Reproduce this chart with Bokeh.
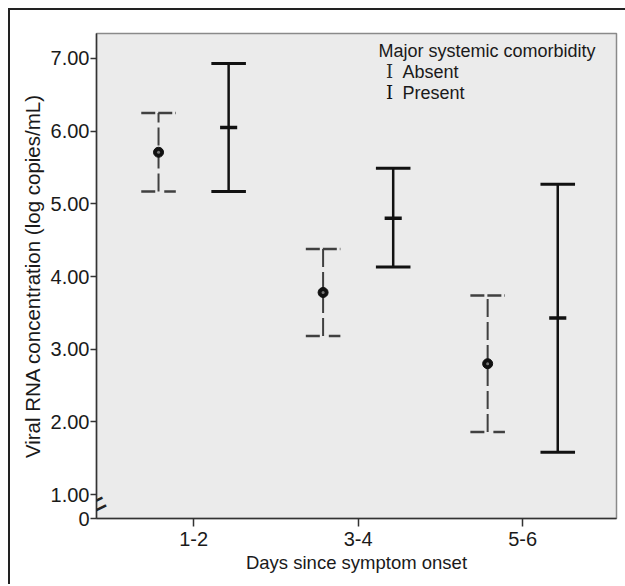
from bokeh.plotting import figure
from bokeh.models import FixedTicker, Label, Range1d, NumeralTickFormatter
from bokeh.embed import file_html
from bokeh.resources import INLINE

# ---- data ----
categories = ["1-2", "3-4", "5-6"]
absent_mean = [5.71, 3.78, 2.80]
absent_low = [5.17, 3.18, 1.86]
absent_high = [6.25, 4.38, 3.74]
present_mean = [6.05, 4.80, 3.43]
present_low = [5.17, 4.13, 1.58]
present_high = [6.93, 5.49, 5.27]
y_ticks = [1, 2, 3, 4, 5, 6, 7]

FONT = "Liberation Sans"
X0, X1 = 0.41, 3.57
Y0, Y1 = 0.67, 7.344
FW, FH = 520, 485
LEFT, TOP = 96, 33


def px_x(px):
    return X0 + (px - LEFT) / FW * (X1 - X0)


def px_y(py):
    return Y1 - (py - TOP) / FH * (Y1 - Y0)


p = figure(frame_width=FW, frame_height=FH,
           x_range=Range1d(X0, X1), y_range=Range1d(Y0, Y1),
           output_backend="svg", toolbar_location=None,
           min_border_left=86, min_border_right=9,
           min_border_top=23, min_border_bottom=66)
p.styles = {"margin-left": "8px", "margin-top": "8px",
            "border-top": "2px solid #222", "border-left": "2px solid #222"}

p.background_fill_color = "#ebebeb"
p.border_fill_color = "white"
p.outline_line_color = "#8a8a8a"
p.outline_line_width = 1.5
p.xgrid.visible = False
p.ygrid.visible = False

# axes
xs = list(range(1, len(categories) + 1))
p.xaxis.ticker = FixedTicker(ticks=xs)
p.xaxis.major_label_overrides = {x: c for x, c in zip(xs, categories)}
p.yaxis.ticker = FixedTicker(ticks=[Y0] + y_ticks)
p.yaxis.formatter = NumeralTickFormatter(format="0.00")
p.yaxis.major_label_overrides = {Y0: "0"}

for ax in (p.xaxis, p.yaxis):
    ax.axis_line_color = "#333333"
    ax.axis_line_width = 1.5
    ax.major_tick_line_color = "#333333"
    ax.major_tick_line_width = 1.5
    ax.major_tick_in = 0
    ax.minor_tick_line_color = None
    ax.major_label_text_font = FONT
    ax.major_label_text_font_size = "20px"
    ax.major_label_text_color = "#1a1a1a"
    ax.axis_label_text_font = FONT
    ax.axis_label_text_font_style = "normal"
    ax.axis_label_text_color = "#1a1a1a"

p.xaxis.axis_label_text_font_size = "18.5px"
p.yaxis.axis_label_text_font_size = "20.5px"
p.xaxis.major_tick_out = 8
p.yaxis.major_tick_out = 6
p.xaxis.major_label_standoff = 5
p.yaxis.major_label_standoff = 1
p.xaxis.axis_label = "Days since symptom onset"
p.yaxis.axis_label = "Viral RNA concentration (log copies/mL)"
p.xaxis.axis_label_standoff = 3
p.yaxis.axis_label_standoff = 4

OFF = 0.213
CAP = 0.105
MTICK = 0.052

ax_x = [x - OFF for x in xs]
px_ = [x + OFF for x in xs]

# Absent: dashed bars
acol = "#404040"
p.segment(x0=ax_x, y0=absent_low, x1=ax_x, y1=absent_high,
          line_color=acol, line_width=2, line_dash="18 5")
p.segment(x0=[x - CAP for x in ax_x], y0=absent_high, x1=[x + CAP for x in ax_x], y1=absent_high,
          line_color=acol, line_width=2.5, line_dash="14 3")
p.segment(x0=[x - CAP for x in ax_x], y0=absent_low, x1=[x + CAP for x in ax_x], y1=absent_low,
          line_color=acol, line_width=2.5, line_dash="14 9")
p.scatter(x=ax_x, y=absent_mean, marker="circle", size=10,
          fill_color="#111111", line_color="#111111")
p.scatter(x=ax_x, y=absent_mean, marker="circle", size=3,
          fill_color="#777777", line_color=None)

# Present: solid bars
pcol = "#111111"
p.segment(x0=px_, y0=present_low, x1=px_, y1=present_high,
          line_color=pcol, line_width=2.5)
p.segment(x0=[x - CAP for x in px_], y0=present_high, x1=[x + CAP for x in px_], y1=present_high,
          line_color=pcol, line_width=3)
p.segment(x0=[x - CAP for x in px_], y0=present_low, x1=[x + CAP for x in px_], y1=present_low,
          line_color=pcol, line_width=3)
p.segment(x0=[x - MTICK for x in px_], y0=present_mean, x1=[x + MTICK for x in px_], y1=present_mean,
          line_color=pcol, line_width=3.5)

# legend
p.add_layout(Label(x=px_x(378), y=px_y(50), text="Major systemic comorbidity",
                   text_font=FONT, text_font_size="18px", text_color="#1a1a1a",
                   text_baseline="middle"))
for row_y, name, col in [(71, "Absent", "#2a2a2a"), (92, "Present", "#111111")]:
    p.add_layout(Label(x=px_x(389), y=px_y(row_y), text="I",
                       text_font="DejaVu Serif", text_font_size="18px",
                       text_color=col, text_align="center", text_baseline="middle"))
    p.add_layout(Label(x=px_x(402), y=px_y(row_y), text=name,
                       text_font=FONT, text_font_size="18px", text_color="#1a1a1a",
                       text_baseline="middle"))

# axis break mark
p.add_layout(Label(x=px_x(96), y=px_y(504), text="=", angle=0.45, level="overlay",
                   text_font=FONT, text_font_size="34px", text_color="#222222",
                   text_align="center", text_baseline="middle"))

open("out.html", "w").write(file_html(p, INLINE))
